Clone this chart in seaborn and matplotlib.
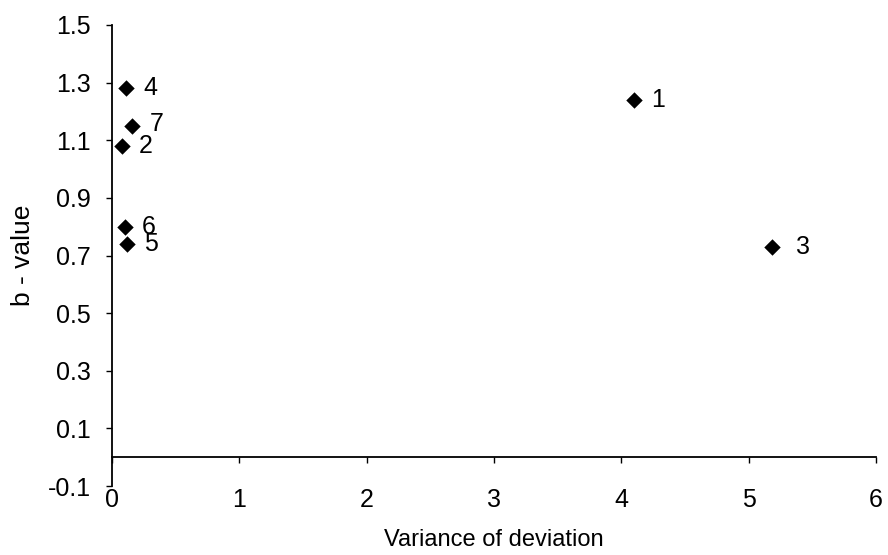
import matplotlib
matplotlib.use("Agg")
import matplotlib.pyplot as plt
import seaborn as sns
import pandas as pd

# Points: variance of deviation vs b-value, one per numbered case
case_labels = ["1", "2", "3", "4", "5", "6", "7"]
variance = [4.10, 0.08, 5.18, 0.11, 0.12, 0.10, 0.16]
b_value = [1.24, 1.08, 0.73, 1.28, 0.74, 0.80, 1.15]

x_ticks = [0, 1, 2, 3, 4, 5, 6]
y_ticks = [-0.1, 0.1, 0.3, 0.5, 0.7, 0.9, 1.1, 1.3, 1.5]

sns.set_theme(style="white")
plt.rcParams["font.family"] = ["Liberation Sans", "DejaVu Sans"]
plt.rcParams.update({"text.color": "black", "axes.labelcolor": "black",
                     "xtick.color": "black", "ytick.color": "black"})

df = pd.DataFrame({"variance": variance, "b": b_value, "case": case_labels})

fig = plt.figure(figsize=(8.88, 5.55), dpi=100)
ax = fig.add_axes([112 / 888, 1 - 486 / 555, (876 - 112) / 888, (486 - 25) / 555])

sns.scatterplot(data=df, x="variance", y="b", marker="D", color="black",
                s=70, edgecolor="black", linewidth=0, ax=ax, zorder=3)

# Case numbers to the right of each point
label_dx = [17, 17, 24, 17, 17, 17, 17]
label_dy = [0, 0, 0, 0, 0, 0, 2]
for xi, yi, txt, dx, dy in zip(variance, b_value, case_labels, label_dx, label_dy):
    ax.annotate(txt, (xi, yi), xytext=(dx * 0.72, dy * 0.72), textcoords="offset points",
                ha="left", va="center", fontsize=18, color="black")

ax.set_xlim(0, 6)
ax.set_ylim(-0.1, 1.5)
ax.set_xticks(x_ticks)
ax.set_xticklabels([str(t) for t in x_ticks])
ax.set_yticks(y_ticks)
ax.set_yticklabels([f"{t:.1f}" for t in y_ticks])

# Horizontal axis crosses at b = 0, its labels stay at the bottom
ax.spines["top"].set_visible(False)
ax.spines["right"].set_visible(False)
ax.spines["bottom"].set_position(("data", 0))
for sp in ("left", "bottom"):
    ax.spines[sp].set_color("black")
    ax.spines[sp].set_linewidth(1.3)

ax.tick_params(axis="x", direction="out", length=4, width=1, color="black",
               pad=18, labelsize=18, bottom=True)
ax.tick_params(axis="y", direction="out", length=4.3, width=1, color="black",
               pad=11, labelsize=18, left=True)

ax.set_xlabel("Variance of deviation", fontsize=17, labelpad=0)
ax.set_ylabel("b - value", fontsize=19)
ax.xaxis.set_label_coords(0.5, -0.093)
ax.yaxis.set_label_coords(-0.101, 0.5)

fig.savefig("out.png", dpi=100, facecolor="white")
